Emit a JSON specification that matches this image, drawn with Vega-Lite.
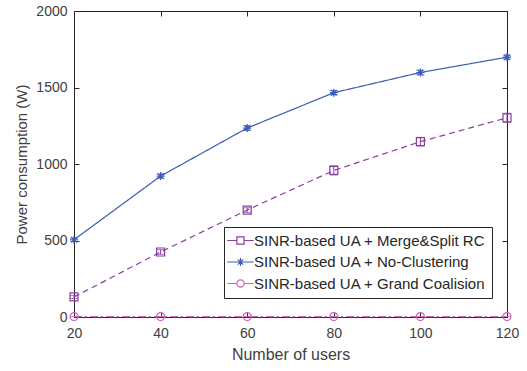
{
  "$schema": "https://vega.github.io/schema/vega-lite/v6.json",
  "width": 433,
  "height": 306,
  "autosize": {"type": "none"},
  "padding": {"left": 74, "top": 11, "right": 20, "bottom": 54},
  "background": "white",
  "config": {
    "font": "Liberation Sans",
    "view": {"stroke": "#262626", "strokeWidth": 1},
    "axis": {
      "grid": false,
      "domainColor": "#262626",
      "tickColor": "#262626",
      "labelColor": "#404040",
      "titleColor": "#404040",
      "labelFont": "Liberation Sans",
      "titleFont": "Liberation Sans",
      "labelFontSize": 14,
      "titleFontSize": 15,
      "titleFontWeight": "normal",
      "tickSize": -5,
      "labelFlush": false,
      "labelOverlap": false,
      "format": "d"
    },
    "legend": {
      "labelFont": "Liberation Sans",
      "labelFontSize": 15,
      "labelColor": "#262626",
      "labelLimit": 0
    }
  },
  "data": {
    "values": [
      {"series": "SINR-based UA + Merge&Split RC", "users": 20, "power": 131, "lo": 121, "hi": 141},
      {"series": "SINR-based UA + Merge&Split RC", "users": 40, "power": 425, "lo": 410, "hi": 440},
      {"series": "SINR-based UA + Merge&Split RC", "users": 60, "power": 699, "lo": 684, "hi": 714},
      {"series": "SINR-based UA + Merge&Split RC", "users": 80, "power": 958, "lo": 928, "hi": 988},
      {"series": "SINR-based UA + Merge&Split RC", "users": 100, "power": 1146, "lo": 1118, "hi": 1174},
      {"series": "SINR-based UA + Merge&Split RC", "users": 120, "power": 1302, "lo": 1272, "hi": 1332},
      {"series": "SINR-based UA + No-Clustering", "users": 20, "power": 505, "lo": 495, "hi": 515},
      {"series": "SINR-based UA + No-Clustering", "users": 40, "power": 921, "lo": 908, "hi": 934},
      {"series": "SINR-based UA + No-Clustering", "users": 60, "power": 1235, "lo": 1220, "hi": 1250},
      {"series": "SINR-based UA + No-Clustering", "users": 80, "power": 1466, "lo": 1452, "hi": 1480},
      {"series": "SINR-based UA + No-Clustering", "users": 100, "power": 1598, "lo": 1583, "hi": 1613},
      {"series": "SINR-based UA + No-Clustering", "users": 120, "power": 1698, "lo": 1685, "hi": 1711},
      {"series": "SINR-based UA + Grand Coalision", "users": 20, "power": 3, "lo": 3, "hi": 3},
      {"series": "SINR-based UA + Grand Coalision", "users": 40, "power": 3, "lo": 3, "hi": 3},
      {"series": "SINR-based UA + Grand Coalision", "users": 60, "power": 3, "lo": 3, "hi": 3},
      {"series": "SINR-based UA + Grand Coalision", "users": 80, "power": 3, "lo": 3, "hi": 3},
      {"series": "SINR-based UA + Grand Coalision", "users": 100, "power": 3, "lo": 3, "hi": 3},
      {"series": "SINR-based UA + Grand Coalision", "users": 120, "power": 3, "lo": 3, "hi": 3}
    ]
  },
  "layer": [
    {
      "layer": [
        {
          "mark": {"type": "line", "strokeWidth": 1.2, "clip": false},
          "encoding": {
            "x": {
              "field": "users", "type": "quantitative",
              "scale": {"domain": [20, 120], "nice": false, "zero": false},
              "axis": {"values": [20, 40, 60, 80, 100, 120], "title": "Number of users", "titleFontSize": 16, "labelPadding": 14, "titlePadding": 6}
            },
            "y": {
              "field": "power", "type": "quantitative",
              "scale": {"domain": [0, 2000], "nice": false},
              "axis": {"values": [0, 500, 1000, 1500, 2000], "title": "Power consumption (W)", "labelPadding": 12, "titlePadding": 6}
            },
            "color": {
              "field": "series", "type": "nominal",
              "scale": {
                "domain": ["SINR-based UA + Merge&Split RC", "SINR-based UA + No-Clustering", "SINR-based UA + Grand Coalision"],
                "range": ["#8A3DA0", "#3B5BB5", "#CC66BB"]
              },
              "legend": null
            },
            "strokeDash": {
              "field": "series", "type": "nominal",
              "scale": {
                "domain": ["SINR-based UA + Merge&Split RC", "SINR-based UA + No-Clustering", "SINR-based UA + Grand Coalision"],
                "range": [[6, 4], [1, 0], [8, 3, 2, 3]]
              },
              "legend": null
            }
          }
        },
        {
          "mark": {"type": "rule", "strokeWidth": 1},
          "encoding": {
            "x": {"field": "users", "type": "quantitative"},
            "y": {"field": "lo", "type": "quantitative"},
            "y2": {"field": "hi"},
            "color": {"field": "series", "type": "nominal", "legend": null}
          }
        },
        {
          "mark": {"type": "tick", "orient": "horizontal", "size": 8, "thickness": 1},
          "encoding": {
            "x": {"field": "users", "type": "quantitative"},
            "y": {"field": "lo", "type": "quantitative"},
            "color": {"field": "series", "type": "nominal", "legend": null}
          }
        },
        {
          "mark": {"type": "tick", "orient": "horizontal", "size": 8, "thickness": 1},
          "encoding": {
            "x": {"field": "users", "type": "quantitative"},
            "y": {"field": "hi", "type": "quantitative"},
            "color": {"field": "series", "type": "nominal", "legend": null}
          }
        },
        {
          "mark": {"type": "point", "filled": false, "size": 64, "strokeWidth": 1.2, "opacity": 1, "clip": false},
          "encoding": {
            "x": {"field": "users", "type": "quantitative"},
            "y": {"field": "power", "type": "quantitative"},
            "color": {"field": "series", "type": "nominal", "legend": null},
            "shape": {
              "field": "series", "type": "nominal",
              "scale": {
                "domain": ["SINR-based UA + Merge&Split RC", "SINR-based UA + No-Clustering", "SINR-based UA + Grand Coalision"],
                "range": ["square", "M-1,0L1,0M0,-1L0,1M-0.7,-0.7L0.7,0.7M-0.7,0.7L0.7,-0.7", "circle"]
              },
              "legend": null
            }
          }
        },
        {
          "mark": {"type": "point", "filled": false, "opacity": 0, "size": 1},
          "encoding": {
            "x": {"field": "users", "type": "quantitative"},
            "y": {"field": "power", "type": "quantitative"},
            "color": {
              "field": "series", "type": "nominal",
              "legend": {
                "title": null,
                "orient": "none",
                "legendX": 150,
                "legendY": 216,
                "strokeColor": "#262626",
                "fillColor": "white",
                "padding": 6,
                "rowPadding": 5.5,
                "symbolSize": 144,
                "symbolOffset": 3,
                "labelOffset": 6,
                "symbolOpacity": 1,
                "symbolStrokeWidth": 1.2
              }
            },
            "shape": {
              "field": "series", "type": "nominal",
              "scale": {
                "domain": ["SINR-based UA + Merge&Split RC", "SINR-based UA + No-Clustering", "SINR-based UA + Grand Coalision"],
                "range": [
                  "M-2.2,0L-0.6,0M0.6,0L2.2,0M-0.6,-0.6L0.6,-0.6L0.6,0.6L-0.6,0.6Z",
                  "M-2.2,0L2.2,0M0,-0.65L0,0.65M-0.45,-0.45L0.45,0.45M-0.45,0.45L0.45,-0.45",
                  "M-2.2,0L-0.6,0M0.6,0L2.2,0M0.6,0A0.6,0.6,0,1,1,-0.6,0A0.6,0.6,0,1,1,0.6,0"
                ]
              },
              "legend": {
                "title": null,
                "orient": "none",
                "legendX": 150,
                "legendY": 216,
                "symbolSize": 144,
                "symbolOpacity": 1
              }
            }
          }
        }
      ],
      "resolve": {
        "scale": {"shape": "independent"},
        "legend": {"color": "independent", "shape": "independent"}
      }
    },
    {
      "mark": {"type": "rule", "strokeWidth": 0},
      "encoding": {
        "x": {
          "field": "users", "type": "quantitative",
          "axis": {"orient": "top", "values": [20, 40, 60, 80, 100, 120], "labels": false, "title": null, "domain": false}
        },
        "y": {
          "field": "power", "type": "quantitative",
          "axis": {"orient": "right", "values": [0, 500, 1000, 1500, 2000], "labels": false, "title": null, "domain": false}
        },
        "color": {"value": "transparent"}
      }
    }
  ],
  "resolve": {"axis": {"x": "independent", "y": "independent"}}
}
